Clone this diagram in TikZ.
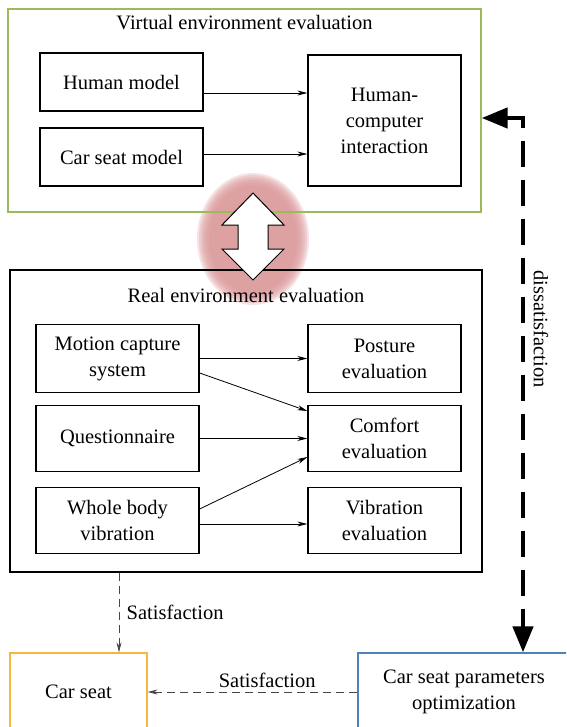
\documentclass[tikz,border=0pt]{standalone}
\usepackage{fontspec}
\setmainfont{Liberation Serif}
\usetikzlibrary{arrows.meta}

\definecolor{frameGreen}{RGB}{155,187,89}
\definecolor{frameOrange}{RGB}{250,182,60}
\definecolor{frameBlue}{RGB}{79,129,189}
\definecolor{haloPink}{RGB}{218,150,152}
\definecolor{dashGray}{RGB}{70,70,70}

\begin{document}
\begin{tikzpicture}[
  x=1pt, y=-1pt,
  every node/.style={font=\fontsize{20.5}{26}\selectfont},
  box/.style={rectangle, draw, line width=1.3pt, align=center, inner sep=2pt},
  frame/.style={rectangle, draw, line width=1.3pt},
  arrow/.style={-{Stealth[length=10pt,width=5pt]}, line width=0.8pt},
  dasharrow/.style={-{Stealth[length=10pt,width=5pt]}, line width=0.8pt, dash pattern=on 8pt off 5pt, draw=dashGray},
  bigarrow/.style={{Triangle[length=26pt,width=20pt]}-{Triangle[length=26pt,width=20pt]}, line width=4.5pt, dash pattern=on 26pt off 13pt}
]
\clip (0,0) rectangle (566,727);

% Halo
\foreach \r in {0,2,...,12}
  \fill[haloPink, opacity=0.28] (253,239) ellipse [x radius=56-\r, y radius=66-\r];

% Virtual environment
\node[frame, draw=frameGreen, minimum width=473pt, minimum height=203pt] (virt) at (244.5,110.5) {};
\node (virtTitle) at ([yshift=-14pt]virt.north) {Virtual environment evaluation};
\node[box, minimum width=163pt, minimum height=58pt] (hm) at (121.5,82) {Human model};
\node[box, minimum width=163pt, minimum height=58pt] (csm) at (121.5,157) {Car seat model};
\node[box, minimum width=153pt, minimum height=131pt] (hci) at (384.5,120.5) {Human-\\computer\\interaction};

\draw[arrow] ([yshift=-11pt]hm.east) -- ([yshift=-11pt]hm.east -| hci.west);
\draw[arrow] ([yshift=3pt]csm.east) -- ([yshift=3pt]csm.east -| hci.west);

% Real environment
\node[frame, minimum width=472pt, minimum height=302pt] (real) at (246,421) {};
\node (realTitle) at ([yshift=-26pt]real.north) {Real environment evaluation};
\node[box, minimum width=163pt, minimum height=68pt] (mcs) at (117.5,358.5) {Motion capture\\system};
\node[box, minimum width=163pt, minimum height=66pt] (qst) at (117.5,438.5) {Questionnaire};
\node[box, minimum width=163pt, minimum height=66pt] (wbv) at (117.5,520.5) {Whole body\\vibration};
\node[box, minimum width=153pt, minimum height=68pt] (pst) at (384.5,358.5) {Posture\\evaluation};
\node[box, minimum width=153pt, minimum height=66pt] (cmf) at (384.5,438.5) {Comfort\\evaluation};
\node[box, minimum width=153pt, minimum height=66pt] (vib) at (384.5,520.5) {Vibration\\evaluation};

\draw[arrow] (mcs.east) -- (pst.west);
\draw[arrow] ([yshift=-14.5pt]mcs.east) -- ([yshift=27.5pt]cmf.west);
\draw[arrow] (qst.east) -- (cmf.west);
\draw[arrow] ([yshift=11.5pt]wbv.east) -- ([yshift=-18.5pt]cmf.west);
\draw[arrow] ([yshift=-3.5pt]wbv.east) -- ([yshift=-3.5pt]vib.west);

% Swap arrow
\draw[line width=1pt, fill=white] (253,193) -- (284,225) -- (268,225) -- (268,249) -- (284,249)
  -- (253,280) -- (222,249) -- (238,249) -- (238,225) -- (222,225) -- cycle;

% Outcome
\node[box, draw=frameOrange, minimum width=137pt, minimum height=78pt] (cs) at (78.5,692) {Car seat};
\node[box, draw=frameBlue, minimum width=212pt, minimum height=78pt] (opt) at (464,692) {Car seat parameters\\optimization};

\coordinate (drop) at (119,600);
\draw[dasharrow] (drop |- real.south) -- (drop |- cs.north) node[midway, right=4pt] {Satisfaction};
\draw[dasharrow] (opt.west) -- (cs.east) node[pos=0.43, above=1pt] {Satisfaction};

% Feedback
\coordinate (turn) at (523,118);
\draw[bigarrow] (turn -| virt.east) -- (turn) -- (turn |- opt.north);
\node[rotate=-90] (dis) at (541,329) {dissatisfaction};

\end{tikzpicture}
\end{document}
